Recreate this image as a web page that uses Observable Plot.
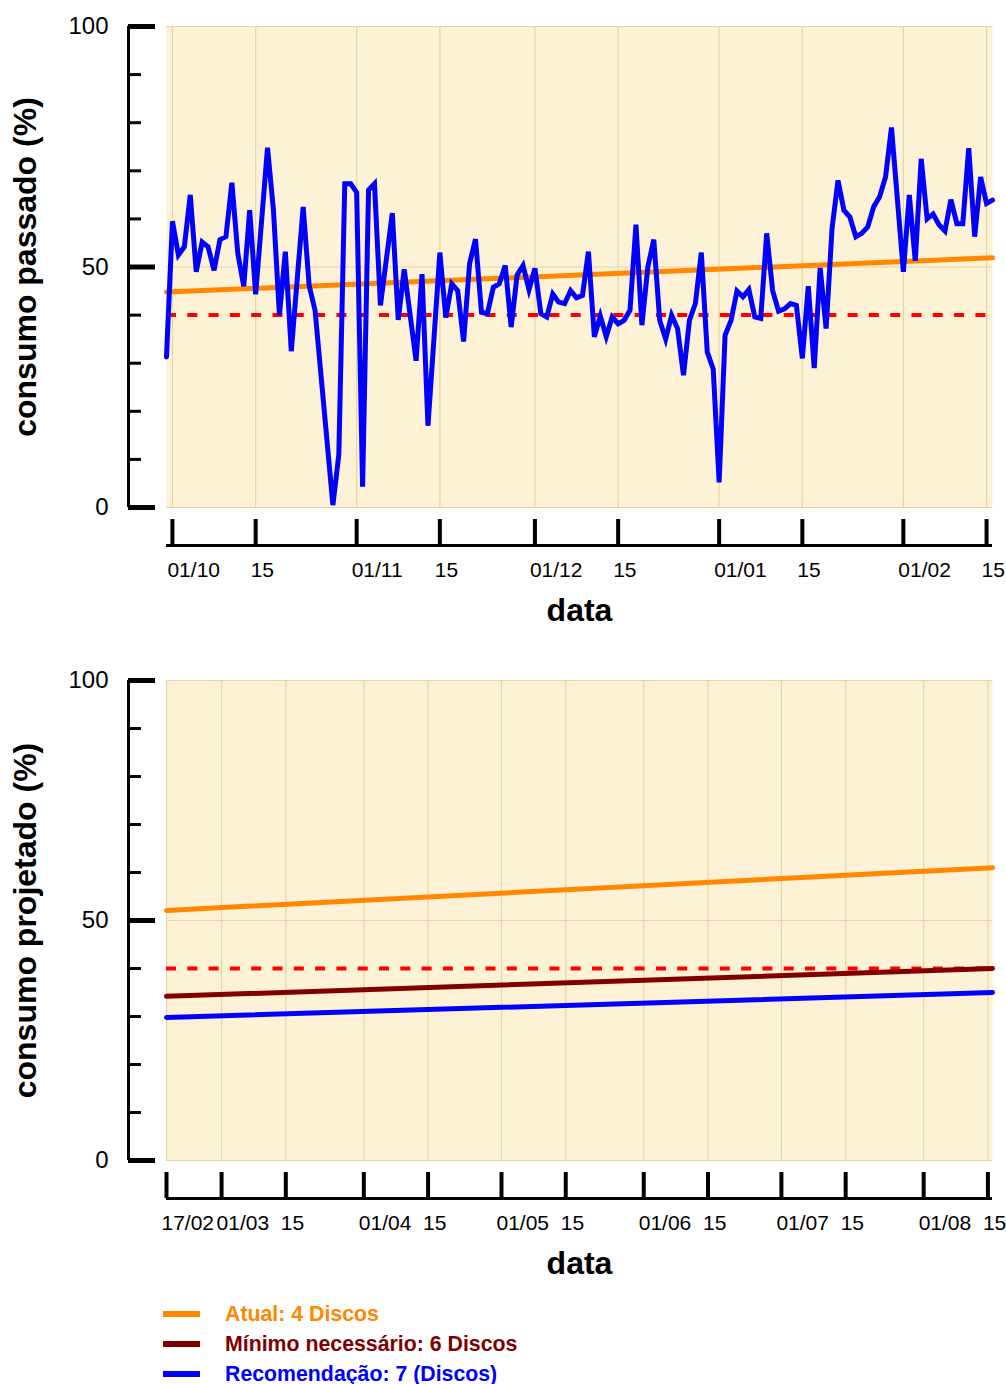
<!DOCTYPE html>
<html><head><meta charset="utf-8">
<script src="https://cdn.jsdelivr.net/npm/d3@7"></script>
<script src="https://cdn.jsdelivr.net/npm/@observablehq/plot@0.6"></script>
<style>
html,body{margin:0;padding:0;background:#fff;overflow:hidden;}
body{font-family:"Liberation Sans",Arial,sans-serif;width:1006px;}
#legend{position:relative;height:99px;}
.item{position:absolute;left:163px;height:30px;display:flex;align-items:center;font-weight:bold;font-size:21.3px;white-space:nowrap;}
.sw{width:37px;height:6px;margin-right:25px;}
svg{display:block;}
</style></head><body>
<div id="topChart"></div><div id="bottomChart"></div><div id="legend"></div>
<script>
// ---------- data ----------
const pastDates = ["2012-09-30","2012-10-01","2012-10-02","2012-10-03","2012-10-04","2012-10-05","2012-10-06","2012-10-07","2012-10-08","2012-10-09",
"2012-10-10","2012-10-11","2012-10-12","2012-10-13","2012-10-14","2012-10-15","2012-10-17","2012-10-18","2012-10-19","2012-10-20",
"2012-10-21","2012-10-23","2012-10-24","2012-10-25","2012-10-28","2012-10-29","2012-10-30","2012-10-31","2012-11-01","2012-11-02",
"2012-11-03","2012-11-04","2012-11-05","2012-11-07","2012-11-08","2012-11-09","2012-11-11","2012-11-12","2012-11-13","2012-11-15",
"2012-11-16","2012-11-17","2012-11-18","2012-11-19","2012-11-20","2012-11-21","2012-11-22","2012-11-23","2012-11-24","2012-11-25",
"2012-11-26","2012-11-27","2012-11-28","2012-11-29","2012-11-30","2012-12-01","2012-12-02","2012-12-03","2012-12-04","2012-12-05",
"2012-12-06","2012-12-07","2012-12-08","2012-12-09","2012-12-10","2012-12-11","2012-12-12","2012-12-13","2012-12-14","2012-12-15",
"2012-12-16","2012-12-17","2012-12-18","2012-12-19","2012-12-20","2012-12-21","2012-12-22","2012-12-23","2012-12-24","2012-12-25",
"2012-12-26","2012-12-27","2012-12-28","2012-12-29","2012-12-30","2012-12-31","2013-01-01","2013-01-02","2013-01-03","2013-01-04",
"2013-01-05","2013-01-06","2013-01-07","2013-01-08","2013-01-09","2013-01-10","2013-01-11","2013-01-12","2013-01-13","2013-01-14",
"2013-01-15","2013-01-16","2013-01-17","2013-01-18","2013-01-19","2013-01-20","2013-01-21","2013-01-22","2013-01-23","2013-01-24",
"2013-01-25","2013-01-26","2013-01-27","2013-01-28","2013-01-29","2013-01-30","2013-02-01","2013-02-02","2013-02-03","2013-02-04",
"2013-02-05","2013-02-06","2013-02-07","2013-02-08","2013-02-09","2013-02-10","2013-02-11","2013-02-12","2013-02-13","2013-02-14",
"2013-02-15","2013-02-16"];
const pastValues = [31.3,59.5,52.5,54.2,65,49,55.2,54.2,49.3,55.7,
56.3,67.5,52.8,46,61.8,44.3,74.8,61.8,40,53.2,
32.5,62.5,46.2,41,0.5,11,67.3,67.3,65.5,4.3,
66,67.3,42,61.2,39,49.5,30.5,48.5,17,53,
39.5,46.5,45.1,34.5,50.7,55.8,40.6,40.3,45.8,46.5,
50.3,37.5,48.3,50.3,45.3,49.7,40.3,39.6,44.4,42.7,
42.4,45.1,43.6,44.1,53.2,35.5,39.8,35.5,39.6,38.2,
38.9,41,58.8,37.9,50,55.7,38.9,35,40,37.2,
27.5,38.9,42.4,53,32.3,28.8,5.2,35.8,38.9,45,
43.8,45.3,39.6,39.3,57,45.1,40.8,41.3,42.4,42,
31,46,29,49.8,37.2,58,68,61.8,60.4,56.3,
57,58.3,62.5,64.6,68.7,79,49,65,51.3,72.5,
60,61,58.8,57.5,64,59,59,74.7,56.3,68.7,
63.2,63.9];
const trendPastDates = ["2012-09-30","2013-02-16"];
const trendPastValues = [44.8, 51.9];

const projDates = ["2013-02-17","2013-08-16"];
const atualValues = [52.1, 61.0];
const minimoValues = [34.2, 40.0];
const recomValues = [29.8, 35.0];
const limitValue = 40;

const topTickDates = ["2012-10-01","2012-10-15","2012-11-01","2012-11-15","2012-12-01","2012-12-15","2013-01-01","2013-01-15","2013-02-01","2013-02-15"];
const topTickLabels = ["01/10","15","01/11","15","01/12","15","01/01","15","01/02","15"];
const botTickDates = ["2013-02-17","2013-03-01","2013-03-15","2013-04-01","2013-04-15","2013-05-01","2013-05-15","2013-06-01","2013-06-15","2013-07-01","2013-07-15","2013-08-01","2013-08-15"];
const botTickLabels = ["17/02","01/03","15","01/04","15","01/05","15","01/06","15","01/07","15","01/08","15"];
const yMajor = [0, 50, 100];
const yMinor = [10, 20, 30, 40, 60, 70, 80, 90];
const yTickLabels = ["0", "50", "100"];

const legendLabels = ["Atual: 4 Discos", "Mínimo necessário: 6 Discos", "Recomendação: 7 (Discos)"];

// ---------- styling ----------
const CREAM = "#fdf2d6", GRID = "#e3d6a2", ORANGE = "#ff8800", DARKRED = "#800000", BLUE = "#0000ff", RED = "#ff0000";
const FONT = "Liberation Sans, Arial, sans-serif";
const parse = d3.utcParse("%Y-%m-%d");

function axisMarks({xStart, ticks, labels, xTitle, yTitle}) {
  return [
    Plot.ruleX([xStart], {y1: 0, y2: 100, dx: -38, stroke: "black", strokeWidth: 3}),
    Plot.axisY(yMajor, {tickSize: -27, dx: -38, fill: "none", stroke: "black", strokeWidth: 5}),
    Plot.axisY(yMinor, {tickSize: -13, dx: -38, fill: "none", stroke: "black", strokeWidth: 3}),
    Plot.text(yMajor, {y: d => d, text: (d, i) => yTickLabels[i], frameAnchor: "left", dx: -58, textAnchor: "end", lineAnchor: "middle", fontSize: 24, fill: "black"}),
    Plot.ruleY([0], {dy: 38, stroke: "black", strokeWidth: 3}),
    Plot.axisX(ticks, {tickSize: -26, dy: 38, fill: "none", stroke: "black", strokeWidth: 4}),
    Plot.text(ticks, {x: d => d, text: (d, i) => labels[i], frameAnchor: "bottom", dy: 63, dx: -5, textAnchor: "start", lineAnchor: "middle", fontSize: 21, fill: "black"}),
    Plot.text([xTitle], {frameAnchor: "bottom", dy: 103, textAnchor: "middle", lineAnchor: "middle", fontSize: 32, fontWeight: "bold", fill: "black"}),
    Plot.text([yTitle], {frameAnchor: "left", rotate: -90, dx: -141, textAnchor: "middle", lineAnchor: "middle", fontSize: 32, fontWeight: "bold", fill: "black"})
  ];
}

// ---------- top chart ----------
const past = pastDates.map((d, i) => ({date: parse(d), value: pastValues[i]}));
const trendPast = trendPastDates.map((d, i) => ({date: parse(d), value: trendPastValues[i]}));
const topTicks = topTickDates.map(parse);

const topPlot = Plot.plot({
  width: 1006, height: 640, marginTop: 26, marginBottom: 133, marginLeft: 166, marginRight: 14,
  style: {fontFamily: FONT, background: "white", overflow: "visible"},
  x: {type: "utc", domain: [parse(pastDates[0]), parse(pastDates[pastDates.length - 1])]},
  y: {domain: [0, 100]},
  marks: [
    Plot.frame({fill: CREAM, stroke: null}),
    Plot.ruleX(topTicks, {stroke: GRID, strokeWidth: 1.2}),
    Plot.ruleY([0, 50, 100], {stroke: GRID, strokeWidth: 1.2}),
    Plot.ruleY([limitValue], {stroke: RED, strokeWidth: 4, strokeDasharray: "10,11.3"}),
    Plot.line(trendPast, {x: "date", y: "value", stroke: ORANGE, strokeWidth: 5}),
    Plot.line(past, {x: "date", y: "value", stroke: BLUE, strokeWidth: 5, strokeLinejoin: "miter", strokeMiterlimit: 4}),
    ...axisMarks({xStart: parse(pastDates[0]), ticks: topTicks, labels: topTickLabels, xTitle: "data", yTitle: "consumo passado (%)"})
  ]
});
document.getElementById("topChart").append(topPlot);

// ---------- bottom chart ----------
const mk = vals => projDates.map((d, i) => ({date: parse(d), value: vals[i]}));
const botTicks = botTickDates.map(parse);
const bottomPlot = Plot.plot({
  width: 1006, height: 645, marginTop: 40, marginBottom: 125, marginLeft: 166, marginRight: 14,
  style: {fontFamily: FONT, background: "white", overflow: "visible"},
  x: {type: "utc", domain: [parse(projDates[0]), parse(projDates[1])]},
  y: {domain: [0, 100]},
  marks: [
    Plot.frame({fill: CREAM, stroke: null}),
    Plot.ruleX(botTicks, {stroke: GRID, strokeWidth: 1.2}),
    Plot.ruleY([0, 50, 100], {stroke: GRID, strokeWidth: 1.2}),
    Plot.ruleY([limitValue], {stroke: RED, strokeWidth: 4, strokeDasharray: "10,11.3"}),
    Plot.line(mk(atualValues), {x: "date", y: "value", stroke: ORANGE, strokeWidth: 5}),
    Plot.line(mk(minimoValues), {x: "date", y: "value", stroke: DARKRED, strokeWidth: 5}),
    Plot.line(mk(recomValues), {x: "date", y: "value", stroke: BLUE, strokeWidth: 5}),
    ...axisMarks({xStart: parse(projDates[0]), ticks: botTicks, labels: botTickLabels, xTitle: "data", yTitle: "consumo projetado (%)"})
  ]
});
document.getElementById("bottomChart").append(bottomPlot);

// ---------- legend ----------
const legendColors = [ORANGE, DARKRED, BLUE];
const legendEl = document.getElementById("legend");
legendLabels.forEach((t, i) => {
  const it = document.createElement("div");
  it.className = "item";
  it.style.top = (14 + i * 30) + "px";
  it.style.color = legendColors[i];
  const sw = document.createElement("span");
  sw.className = "sw";
  sw.style.background = legendColors[i];
  it.append(sw, document.createTextNode(t));
  legendEl.append(it);
});
</script>
</body></html>
